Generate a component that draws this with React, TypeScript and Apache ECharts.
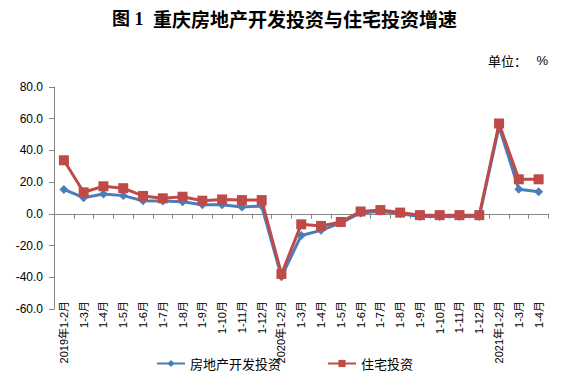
import React, { useEffect, useRef } from "react";
import * as echarts from "echarts";

const categories = [
  "2019年1-2月", "1-3月", "1-4月", "1-5月", "1-6月", "1-7月", "1-8月", "1-9月", "1-10月", "1-11月", "1-12月",
  "2020年1-2月", "1-3月", "1-4月", "1-5月", "1-6月", "1-7月", "1-8月", "1-9月", "1-10月", "1-11月", "1-12月",
  "2021年1-2月", "1-3月", "1-4月",
];

const realEstateInvestment = [
  15.4, 10.2, 12.5, 11.5, 8.3, 8.1, 7.6, 5.7, 5.7, 4.3, 4.9,
  -39.7, -13.6, -10.4, -5.7, 0.6, 1.7, 0.0, -1.7, -1.7, -1.7, -1.7,
  54.9, 15.5, 14.0,
];

const residentialInvestment = [
  33.8, 13.6, 17.4, 16.2, 11.3, 9.8, 10.8, 8.3, 9.1, 8.7, 8.7,
  -37.9, -6.6, -7.6, -5.1, 1.5, 2.4, 0.8, -0.8, -0.8, -0.8, -0.8,
  57.0, 21.8, 21.8,
];

const seriesNames = ["房地产开发投资", "住宅投资"];
const titleLabel = "图 1";
const titleText = "重庆房地产开发投资与住宅投资增速";
const unitText = "单位：";
const unitSymbol = "%";

const FONT = "'Liberation Sans', Arial, 'Noto Sans CJK SC', sans-serif";
const CJK = "'Noto Sans CJK SC', sans-serif";
const TITLE_FONT = "'Liberation Serif', 'Noto Sans CJK SC', serif";
const AXIS_COLOR = "#868686";

export default function App() {
  const ref = useRef<HTMLDivElement>(null);
  useEffect(() => {
    if (!ref.current) return;
    const chart = echarts.init(ref.current, null, { renderer: "svg" });
    const gridLeft = 54;
    const gridWidth = 494.5;
    const gridTop = 87;
    chart.setOption({
      animation: false,
      backgroundColor: "#ffffff",
      textStyle: { fontFamily: FONT },
      graphic: [
        {
          type: "text",
          x: 112,
          y: 18.5,
          style: { text: titleLabel, font: `bold 18px ${TITLE_FONT}`, fill: "#000", textVerticalAlign: "middle" },
        },
        {
          type: "text",
          x: 153,
          y: 18.5,
          style: { text: titleText, font: `bold 19px ${CJK}`, fill: "#000", textVerticalAlign: "middle" },
        },
        {
          type: "text",
          x: 488,
          y: 60,
          style: { text: unitText, font: `13px ${CJK}`, fill: "#000", textVerticalAlign: "middle" },
        },
        {
          type: "text",
          x: 548,
          y: 60,
          style: { text: unitSymbol, font: `13px ${FONT}`, fill: "#000", textAlign: "right", textVerticalAlign: "middle" },
        },
      ],
      legend: {
        data: seriesNames,
        left: 156,
        top: 357,
        padding: 0,
        itemWidth: 28,
        itemHeight: 9,
        itemGap: 46,
        textStyle: { fontSize: 13, fontFamily: CJK, color: "#000" },
      },
      grid: [
        { left: gridLeft, top: gridTop, width: gridWidth, height: 222, containLabel: false },
        { left: gridLeft, top: gridTop, width: gridWidth, height: 206, containLabel: false },
      ],
      xAxis: [
        {
          type: "category",
          gridIndex: 0,
          data: categories,
          boundaryGap: true,
          show: false,
        },
        {
          type: "category",
          gridIndex: 1,
          data: categories,
          boundaryGap: true,
          axisLine: { show: true, lineStyle: { color: AXIS_COLOR, width: 1 } },
          axisTick: { show: true, interval: 0, length: 5, lineStyle: { color: AXIS_COLOR } },
          axisLabel: {
            interval: 0,
            rotate: 90,
            margin: 8,
            fontSize: 11,
            color: "#000",
            fontFamily: FONT,
          },
          splitLine: { show: false },
        },
      ],
      yAxis: [
        {
          type: "value",
          gridIndex: 0,
          min: -60,
          max: 80,
          interval: 20,
          axisLine: { show: true, lineStyle: { color: AXIS_COLOR, width: 1 } },
          axisTick: { show: true, length: 5, lineStyle: { color: AXIS_COLOR } },
          axisLabel: {
            fontSize: 12,
            color: "#000",
            margin: 11,
            fontFamily: FONT,
            formatter: (v: number) => v.toFixed(1),
          },
          splitLine: { show: false },
        },
        {
          type: "value",
          gridIndex: 1,
          min: -50,
          max: 80,
          show: false,
          splitLine: { show: false },
        },
      ],
      series: [
        {
          name: seriesNames[0],
          type: "line",
          xAxisIndex: 0,
          yAxisIndex: 0,
          data: realEstateInvestment,
          symbol: "diamond",
          symbolSize: 9,
          lineStyle: { color: "#4A7EBB", width: 3 },
          itemStyle: { color: "#4A7EBB" },
          z: 2,
        },
        {
          name: seriesNames[1],
          type: "line",
          xAxisIndex: 0,
          yAxisIndex: 0,
          data: residentialInvestment,
          symbol: "rect",
          symbolSize: 10,
          lineStyle: { color: "#BE4B48", width: 3 },
          itemStyle: { color: "#BE4B48" },
          z: 3,
        },
      ],
    });
    return () => chart.dispose();
  }, []);
  return <div ref={ref} style={{ width: 564, height: 385, margin: -8 }} />;
}
